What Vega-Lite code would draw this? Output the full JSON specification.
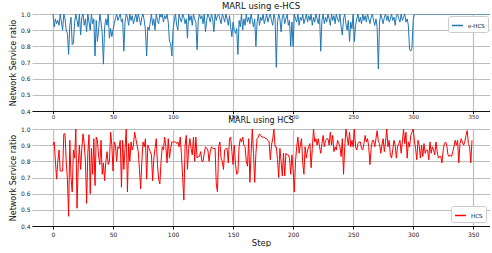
{
"$schema": "https://vega.github.io/schema/vega-lite/v6.json",
"padding": {"left": 9, "top": 1, "right": 0, "bottom": 0},
"background": "white",
"spacing": -3,
"datasets": {
"ehcs": [
{"step":0,"ratio":1.0},{"step":1,"ratio":0.92},{"step":2,"ratio":0.97},{"step":3,"ratio":0.94},{"step":4,"ratio":0.96},{"step":5,"ratio":0.93},{"step":6,"ratio":1.0},{"step":7,"ratio":0.95},{"step":8,"ratio":0.9},{"step":9,"ratio":1.0},
{"step":10,"ratio":0.97},{"step":11,"ratio":0.9},{"step":12,"ratio":0.88},{"step":13,"ratio":0.75},{"step":14,"ratio":0.93},{"step":15,"ratio":0.98},{"step":16,"ratio":0.81},{"step":17,"ratio":0.82},{"step":18,"ratio":0.95},{"step":19,"ratio":1.0},
{"step":20,"ratio":0.96},{"step":21,"ratio":0.92},{"step":22,"ratio":1.0},{"step":23,"ratio":0.87},{"step":24,"ratio":0.98},{"step":25,"ratio":1.0},{"step":26,"ratio":0.93},{"step":27,"ratio":0.97},{"step":28,"ratio":0.89},{"step":29,"ratio":1.0},
{"step":30,"ratio":0.95},{"step":31,"ratio":0.9},{"step":32,"ratio":1.0},{"step":33,"ratio":0.94},{"step":34,"ratio":0.97},{"step":35,"ratio":0.74},{"step":36,"ratio":0.96},{"step":37,"ratio":0.83},{"step":38,"ratio":0.9},{"step":39,"ratio":1.0},
{"step":40,"ratio":0.95},{"step":41,"ratio":0.88},{"step":42,"ratio":0.69},{"step":43,"ratio":0.92},{"step":44,"ratio":0.97},{"step":45,"ratio":0.93},{"step":46,"ratio":1.0},{"step":47,"ratio":0.85},{"step":48,"ratio":0.91},{"step":49,"ratio":0.86},
{"step":50,"ratio":0.9},{"step":51,"ratio":0.94},{"step":52,"ratio":0.97},{"step":53,"ratio":1.0},{"step":54,"ratio":0.96},{"step":55,"ratio":0.98},{"step":56,"ratio":1.0},{"step":57,"ratio":0.95},{"step":58,"ratio":0.97},{"step":59,"ratio":0.77},
{"step":60,"ratio":0.95},{"step":61,"ratio":1.0},{"step":62,"ratio":0.98},{"step":63,"ratio":0.93},{"step":64,"ratio":1.0},{"step":65,"ratio":0.96},{"step":66,"ratio":0.99},{"step":67,"ratio":0.94},{"step":68,"ratio":0.97},{"step":69,"ratio":1.0},
{"step":70,"ratio":0.95},{"step":71,"ratio":1.0},{"step":72,"ratio":0.97},{"step":73,"ratio":0.93},{"step":74,"ratio":0.98},{"step":75,"ratio":1.0},{"step":76,"ratio":0.96},{"step":77,"ratio":0.9},{"step":78,"ratio":0.74},{"step":79,"ratio":0.92},
{"step":80,"ratio":0.9},{"step":81,"ratio":0.95},{"step":82,"ratio":1.0},{"step":83,"ratio":0.93},{"step":84,"ratio":0.97},{"step":85,"ratio":0.9},{"step":86,"ratio":1.0},{"step":87,"ratio":0.96},{"step":88,"ratio":0.94},{"step":89,"ratio":1.0},
{"step":90,"ratio":0.98},{"step":91,"ratio":1.0},{"step":92,"ratio":0.95},{"step":93,"ratio":0.99},{"step":94,"ratio":0.97},{"step":95,"ratio":1.0},{"step":96,"ratio":0.95},{"step":97,"ratio":0.83},{"step":98,"ratio":0.82},{"step":99,"ratio":0.74},
{"step":100,"ratio":0.9},{"step":101,"ratio":0.96},{"step":102,"ratio":1.0},{"step":103,"ratio":0.93},{"step":104,"ratio":0.9},{"step":105,"ratio":1.0},{"step":106,"ratio":0.97},{"step":107,"ratio":0.95},{"step":108,"ratio":1.0},{"step":109,"ratio":0.98},
{"step":110,"ratio":0.94},{"step":111,"ratio":0.97},{"step":112,"ratio":0.85},{"step":113,"ratio":1.0},{"step":114,"ratio":0.96},{"step":115,"ratio":0.99},{"step":116,"ratio":0.93},{"step":117,"ratio":1.0},{"step":118,"ratio":0.97},{"step":119,"ratio":0.95},
{"step":120,"ratio":0.78},{"step":121,"ratio":0.96},{"step":122,"ratio":1.0},{"step":123,"ratio":0.97},{"step":124,"ratio":0.99},{"step":125,"ratio":0.94},{"step":126,"ratio":1.0},{"step":127,"ratio":0.89},{"step":128,"ratio":0.96},{"step":129,"ratio":1.0},
{"step":130,"ratio":0.98},{"step":131,"ratio":0.95},{"step":132,"ratio":1.0},{"step":133,"ratio":0.97},{"step":134,"ratio":0.89},{"step":135,"ratio":1.0},{"step":136,"ratio":0.96},{"step":137,"ratio":0.99},{"step":138,"ratio":1.0},{"step":139,"ratio":0.97},
{"step":140,"ratio":0.94},{"step":141,"ratio":1.0},{"step":142,"ratio":0.98},{"step":143,"ratio":0.95},{"step":144,"ratio":1.0},{"step":145,"ratio":0.97},{"step":146,"ratio":0.93},{"step":147,"ratio":0.99},{"step":148,"ratio":0.92},{"step":149,"ratio":0.86},
{"step":150,"ratio":0.95},{"step":151,"ratio":0.9},{"step":152,"ratio":0.88},{"step":153,"ratio":0.91},{"step":154,"ratio":0.75},{"step":155,"ratio":0.96},{"step":156,"ratio":0.92},{"step":157,"ratio":1.0},{"step":158,"ratio":0.9},{"step":159,"ratio":0.97},
{"step":160,"ratio":0.93},{"step":161,"ratio":1.0},{"step":162,"ratio":0.95},{"step":163,"ratio":0.98},{"step":164,"ratio":0.94},{"step":165,"ratio":1.0},{"step":166,"ratio":0.96},{"step":167,"ratio":0.92},{"step":168,"ratio":0.97},{"step":169,"ratio":0.8},
{"step":170,"ratio":0.95},{"step":171,"ratio":1.0},{"step":172,"ratio":0.93},{"step":173,"ratio":0.98},{"step":174,"ratio":0.96},{"step":175,"ratio":1.0},{"step":176,"ratio":0.94},{"step":177,"ratio":0.97},{"step":178,"ratio":1.0},{"step":179,"ratio":0.95},
{"step":180,"ratio":0.98},{"step":181,"ratio":1.0},{"step":182,"ratio":0.96},{"step":183,"ratio":0.93},{"step":184,"ratio":1.0},{"step":185,"ratio":0.97},{"step":186,"ratio":0.67},{"step":187,"ratio":0.95},{"step":188,"ratio":1.0},{"step":189,"ratio":0.97},
{"step":190,"ratio":0.89},{"step":191,"ratio":0.98},{"step":192,"ratio":1.0},{"step":193,"ratio":0.94},{"step":194,"ratio":0.97},{"step":195,"ratio":1.0},{"step":196,"ratio":0.93},{"step":197,"ratio":0.96},{"step":198,"ratio":0.8},{"step":199,"ratio":0.95},
{"step":200,"ratio":0.8},{"step":201,"ratio":1.0},{"step":202,"ratio":0.97},{"step":203,"ratio":0.95},{"step":204,"ratio":1.0},{"step":205,"ratio":0.93},{"step":206,"ratio":0.98},{"step":207,"ratio":0.96},{"step":208,"ratio":1.0},{"step":209,"ratio":0.94},
{"step":210,"ratio":0.97},{"step":211,"ratio":1.0},{"step":212,"ratio":0.95},{"step":213,"ratio":0.99},{"step":214,"ratio":0.96},{"step":215,"ratio":1.0},{"step":216,"ratio":0.93},{"step":217,"ratio":0.98},{"step":218,"ratio":0.95},{"step":219,"ratio":1.0},
{"step":220,"ratio":0.97},{"step":221,"ratio":0.94},{"step":222,"ratio":1.0},{"step":223,"ratio":0.77},{"step":224,"ratio":0.96},{"step":225,"ratio":1.0},{"step":226,"ratio":0.94},{"step":227,"ratio":0.98},{"step":228,"ratio":0.95},{"step":229,"ratio":1.0},
{"step":230,"ratio":0.97},{"step":231,"ratio":0.93},{"step":232,"ratio":1.0},{"step":233,"ratio":0.96},{"step":234,"ratio":0.99},{"step":235,"ratio":0.94},{"step":236,"ratio":1.0},{"step":237,"ratio":0.97},{"step":238,"ratio":0.95},{"step":239,"ratio":1.0},
{"step":240,"ratio":0.92},{"step":241,"ratio":0.87},{"step":242,"ratio":0.97},{"step":243,"ratio":1.0},{"step":244,"ratio":0.94},{"step":245,"ratio":0.9},{"step":246,"ratio":0.96},{"step":247,"ratio":0.83},{"step":248,"ratio":0.95},{"step":249,"ratio":0.91},
{"step":250,"ratio":1.0},{"step":251,"ratio":0.83},{"step":252,"ratio":0.93},{"step":253,"ratio":0.97},{"step":254,"ratio":1.0},{"step":255,"ratio":0.95},{"step":256,"ratio":0.98},{"step":257,"ratio":0.94},{"step":258,"ratio":1.0},{"step":259,"ratio":0.96},
{"step":260,"ratio":0.99},{"step":261,"ratio":0.95},{"step":262,"ratio":1.0},{"step":263,"ratio":0.97},{"step":264,"ratio":0.94},{"step":265,"ratio":0.98},{"step":266,"ratio":1.0},{"step":267,"ratio":0.96},{"step":268,"ratio":0.93},{"step":269,"ratio":0.97},
{"step":270,"ratio":0.92},{"step":271,"ratio":0.66},{"step":272,"ratio":0.95},{"step":273,"ratio":1.0},{"step":274,"ratio":0.97},{"step":275,"ratio":0.94},{"step":276,"ratio":0.98},{"step":277,"ratio":1.0},{"step":278,"ratio":0.96},{"step":279,"ratio":0.99},
{"step":280,"ratio":0.95},{"step":281,"ratio":0.97},{"step":282,"ratio":1.0},{"step":283,"ratio":0.96},{"step":284,"ratio":0.98},{"step":285,"ratio":0.93},{"step":286,"ratio":0.99},{"step":287,"ratio":1.0},{"step":288,"ratio":0.97},{"step":289,"ratio":0.95},
{"step":290,"ratio":1.0},{"step":291,"ratio":0.96},{"step":292,"ratio":0.98},{"step":293,"ratio":1.0},{"step":294,"ratio":0.95},{"step":295,"ratio":0.97},{"step":296,"ratio":0.93},{"step":297,"ratio":0.78},{"step":298,"ratio":0.77},{"step":299,"ratio":0.79},
{"step":300,"ratio":0.96},{"step":301,"ratio":1.0},{"step":302,"ratio":1.0},{"step":366,"ratio":1.0}
],
"hcs": [
{"step":0,"ratio":0.9},{"step":1,"ratio":0.92},{"step":2,"ratio":0.8},{"step":3,"ratio":0.69},{"step":4,"ratio":0.8},{"step":5,"ratio":0.87},{"step":6,"ratio":0.74},{"step":7,"ratio":0.74},{"step":8,"ratio":0.74},{"step":9,"ratio":0.97},
{"step":10,"ratio":0.97},{"step":11,"ratio":0.8},{"step":12,"ratio":0.69},{"step":13,"ratio":0.46},{"step":14,"ratio":0.93},{"step":15,"ratio":0.7},{"step":16,"ratio":0.61},{"step":17,"ratio":0.87},{"step":18,"ratio":0.82},{"step":19,"ratio":1.0},
{"step":20,"ratio":0.51},{"step":21,"ratio":0.78},{"step":22,"ratio":0.9},{"step":23,"ratio":0.75},{"step":24,"ratio":0.88},{"step":25,"ratio":0.97},{"step":26,"ratio":0.91},{"step":27,"ratio":0.8},{"step":28,"ratio":0.54},{"step":29,"ratio":0.85},
{"step":30,"ratio":0.965},{"step":31,"ratio":0.6},{"step":32,"ratio":0.88},{"step":33,"ratio":0.72},{"step":34,"ratio":0.94},{"step":35,"ratio":0.65},{"step":36,"ratio":0.95},{"step":37,"ratio":0.93},{"step":38,"ratio":0.83},{"step":39,"ratio":0.78},
{"step":40,"ratio":0.93},{"step":41,"ratio":0.72},{"step":42,"ratio":0.79},{"step":43,"ratio":0.68},{"step":44,"ratio":0.8},{"step":45,"ratio":0.86},{"step":46,"ratio":0.78},{"step":47,"ratio":0.8},{"step":48,"ratio":0.98},{"step":49,"ratio":0.9},
{"step":50,"ratio":0.74},{"step":51,"ratio":0.92},{"step":52,"ratio":0.9},{"step":53,"ratio":0.8},{"step":54,"ratio":0.89},{"step":55,"ratio":0.88},{"step":56,"ratio":0.93},{"step":57,"ratio":0.64},{"step":58,"ratio":0.93},{"step":59,"ratio":0.75},
{"step":60,"ratio":0.88},{"step":61,"ratio":1.0},{"step":62,"ratio":0.61},{"step":63,"ratio":0.91},{"step":64,"ratio":0.8},{"step":65,"ratio":0.92},{"step":66,"ratio":0.87},{"step":67,"ratio":0.9},{"step":68,"ratio":0.98},{"step":69,"ratio":0.94},
{"step":70,"ratio":0.9},{"step":71,"ratio":0.86},{"step":72,"ratio":0.75},{"step":73,"ratio":0.63},{"step":74,"ratio":0.8},{"step":75,"ratio":0.92},{"step":76,"ratio":0.89},{"step":77,"ratio":0.94},{"step":78,"ratio":0.69},{"step":79,"ratio":0.9},
{"step":80,"ratio":0.88},{"step":81,"ratio":0.86},{"step":82,"ratio":0.84},{"step":83,"ratio":0.68},{"step":84,"ratio":0.82},{"step":85,"ratio":0.88},{"step":86,"ratio":0.94},{"step":87,"ratio":0.78},{"step":88,"ratio":0.69},{"step":89,"ratio":0.66},
{"step":90,"ratio":0.8},{"step":91,"ratio":0.89},{"step":92,"ratio":0.87},{"step":93,"ratio":0.95},{"step":94,"ratio":0.89},{"step":95,"ratio":0.79},{"step":96,"ratio":0.94},{"step":97,"ratio":0.82},{"step":98,"ratio":0.88},{"step":99,"ratio":0.92},
{"step":100,"ratio":0.92},{"step":101,"ratio":0.92},{"step":102,"ratio":0.92},{"step":103,"ratio":0.91},{"step":104,"ratio":0.92},{"step":105,"ratio":0.89},{"step":106,"ratio":0.95},{"step":107,"ratio":0.84},{"step":108,"ratio":0.7},{"step":109,"ratio":0.56},
{"step":110,"ratio":0.9},{"step":111,"ratio":0.96},{"step":112,"ratio":0.75},{"step":113,"ratio":0.88},{"step":114,"ratio":0.94},{"step":115,"ratio":0.88},{"step":116,"ratio":0.84},{"step":117,"ratio":0.95},{"step":118,"ratio":0.8},{"step":119,"ratio":0.95},
{"step":120,"ratio":0.82},{"step":121,"ratio":0.83},{"step":122,"ratio":0.83},{"step":123,"ratio":0.86},{"step":124,"ratio":0.8},{"step":125,"ratio":0.8},{"step":126,"ratio":0.85},{"step":127,"ratio":0.89},{"step":128,"ratio":0.88},{"step":129,"ratio":0.87},
{"step":130,"ratio":0.8},{"step":131,"ratio":0.86},{"step":132,"ratio":0.89},{"step":133,"ratio":0.88},{"step":134,"ratio":0.88},{"step":135,"ratio":0.88},{"step":136,"ratio":0.66},{"step":137,"ratio":0.61},{"step":138,"ratio":0.89},{"step":139,"ratio":0.92},
{"step":140,"ratio":0.82},{"step":141,"ratio":0.8},{"step":142,"ratio":0.75},{"step":143,"ratio":0.87},{"step":144,"ratio":0.88},{"step":145,"ratio":0.88},{"step":146,"ratio":0.79},{"step":147,"ratio":0.94},{"step":148,"ratio":0.95},{"step":149,"ratio":0.86},
{"step":150,"ratio":0.78},{"step":151,"ratio":0.9},{"step":152,"ratio":0.78},{"step":153,"ratio":0.72},{"step":154,"ratio":0.73},{"step":155,"ratio":0.89},{"step":156,"ratio":0.94},{"step":157,"ratio":0.92},{"step":158,"ratio":0.95},{"step":159,"ratio":0.9},
{"step":160,"ratio":0.89},{"step":161,"ratio":0.8},{"step":162,"ratio":0.77},{"step":163,"ratio":0.94},{"step":164,"ratio":0.67},{"step":165,"ratio":0.85},{"step":166,"ratio":1.0},{"step":167,"ratio":0.85},{"step":168,"ratio":0.67},{"step":169,"ratio":0.85},
{"step":170,"ratio":0.94},{"step":171,"ratio":0.95},{"step":172,"ratio":0.97},{"step":173,"ratio":0.96},{"step":174,"ratio":0.95},{"step":175,"ratio":0.95},{"step":176,"ratio":0.95},{"step":177,"ratio":0.94},{"step":178,"ratio":0.94},{"step":179,"ratio":0.93},
{"step":180,"ratio":0.92},{"step":181,"ratio":0.81},{"step":182,"ratio":0.9},{"step":183,"ratio":0.94},{"step":184,"ratio":1.0},{"step":185,"ratio":0.89},{"step":186,"ratio":0.89},{"step":187,"ratio":0.81},{"step":188,"ratio":0.7},{"step":189,"ratio":0.88},
{"step":190,"ratio":0.8},{"step":191,"ratio":0.71},{"step":192,"ratio":0.85},{"step":193,"ratio":0.71},{"step":194,"ratio":0.85},{"step":195,"ratio":0.84},{"step":196,"ratio":0.84},{"step":197,"ratio":0.82},{"step":198,"ratio":0.72},{"step":199,"ratio":0.84},
{"step":200,"ratio":0.75},{"step":201,"ratio":0.61},{"step":202,"ratio":0.8},{"step":203,"ratio":0.89},{"step":204,"ratio":0.95},{"step":205,"ratio":0.85},{"step":206,"ratio":0.9},{"step":207,"ratio":0.94},{"step":208,"ratio":0.79},{"step":209,"ratio":0.72},
{"step":210,"ratio":0.89},{"step":211,"ratio":0.82},{"step":212,"ratio":0.87},{"step":213,"ratio":0.89},{"step":214,"ratio":0.91},{"step":215,"ratio":0.76},{"step":216,"ratio":0.88},{"step":217,"ratio":1.0},{"step":218,"ratio":0.92},{"step":219,"ratio":0.94},
{"step":220,"ratio":0.9},{"step":221,"ratio":0.94},{"step":222,"ratio":0.89},{"step":223,"ratio":0.85},{"step":224,"ratio":0.91},{"step":225,"ratio":0.96},{"step":226,"ratio":0.89},{"step":227,"ratio":0.93},{"step":228,"ratio":0.94},{"step":229,"ratio":0.94},
{"step":230,"ratio":0.9},{"step":231,"ratio":0.98},{"step":232,"ratio":0.9},{"step":233,"ratio":0.96},{"step":234,"ratio":0.86},{"step":235,"ratio":0.89},{"step":236,"ratio":0.87},{"step":237,"ratio":0.93},{"step":238,"ratio":0.91},{"step":239,"ratio":0.89},
{"step":240,"ratio":0.83},{"step":241,"ratio":0.94},{"step":242,"ratio":0.72},{"step":243,"ratio":0.89},{"step":244,"ratio":1.0},{"step":245,"ratio":0.95},{"step":246,"ratio":0.9},{"step":247,"ratio":0.98},{"step":248,"ratio":0.89},{"step":249,"ratio":0.93},
{"step":250,"ratio":0.89},{"step":251,"ratio":1.0},{"step":252,"ratio":0.89},{"step":253,"ratio":0.87},{"step":254,"ratio":0.91},{"step":255,"ratio":0.92},{"step":256,"ratio":0.92},{"step":257,"ratio":0.88},{"step":258,"ratio":0.87},{"step":259,"ratio":0.91},
{"step":260,"ratio":0.96},{"step":261,"ratio":0.92},{"step":262,"ratio":0.94},{"step":263,"ratio":0.89},{"step":264,"ratio":0.78},{"step":265,"ratio":0.88},{"step":266,"ratio":0.93},{"step":267,"ratio":0.93},{"step":268,"ratio":0.89},{"step":269,"ratio":0.94},
{"step":270,"ratio":0.99},{"step":271,"ratio":0.92},{"step":272,"ratio":0.91},{"step":273,"ratio":0.85},{"step":274,"ratio":0.9},{"step":275,"ratio":0.94},{"step":276,"ratio":0.86},{"step":277,"ratio":0.92},{"step":278,"ratio":1.0},{"step":279,"ratio":0.89},
{"step":280,"ratio":0.93},{"step":281,"ratio":0.84},{"step":282,"ratio":0.82},{"step":283,"ratio":0.87},{"step":284,"ratio":0.93},{"step":285,"ratio":0.9},{"step":286,"ratio":0.82},{"step":287,"ratio":0.89},{"step":288,"ratio":0.91},{"step":289,"ratio":0.93},
{"step":290,"ratio":0.85},{"step":291,"ratio":0.92},{"step":292,"ratio":1.0},{"step":293,"ratio":0.91},{"step":294,"ratio":0.98},{"step":295,"ratio":0.82},{"step":296,"ratio":0.92},{"step":297,"ratio":0.89},{"step":298,"ratio":0.96},{"step":299,"ratio":0.98},
{"step":300,"ratio":1.0},{"step":301,"ratio":0.93},{"step":302,"ratio":0.88},{"step":303,"ratio":0.81},{"step":304,"ratio":0.93},{"step":305,"ratio":0.9},{"step":306,"ratio":0.82},{"step":307,"ratio":0.9},{"step":308,"ratio":0.83},{"step":309,"ratio":0.91},
{"step":310,"ratio":0.85},{"step":311,"ratio":0.87},{"step":312,"ratio":0.87},{"step":313,"ratio":0.81},{"step":314,"ratio":0.92},{"step":315,"ratio":0.85},{"step":316,"ratio":0.89},{"step":317,"ratio":0.87},{"step":318,"ratio":0.84},{"step":319,"ratio":0.92},
{"step":320,"ratio":0.86},{"step":321,"ratio":0.82},{"step":322,"ratio":0.83},{"step":323,"ratio":0.83},{"step":324,"ratio":0.79},{"step":325,"ratio":0.87},{"step":326,"ratio":0.91},{"step":327,"ratio":0.92},{"step":328,"ratio":0.9},{"step":329,"ratio":0.84},
{"step":330,"ratio":0.83},{"step":331,"ratio":0.84},{"step":332,"ratio":0.83},{"step":333,"ratio":0.86},{"step":334,"ratio":0.89},{"step":335,"ratio":0.93},{"step":336,"ratio":0.9},{"step":337,"ratio":0.93},{"step":338,"ratio":0.79},{"step":339,"ratio":0.91},
{"step":340,"ratio":0.94},{"step":341,"ratio":0.92},{"step":342,"ratio":0.9},{"step":343,"ratio":0.92},{"step":344,"ratio":0.96},{"step":345,"ratio":0.99},{"step":346,"ratio":0.91},{"step":347,"ratio":0.89},{"step":348,"ratio":0.79},{"step":349,"ratio":0.93}
]
},
"vconcat": [
{
"title": {"text": "MARL using e-HCS", "offset": 1},
"width": 458, "height": 97,
"data": {"name": "ehcs"},
"mark": {"type": "line", "strokeWidth": 1, "clip": true},
"encoding": {
"x": {"field": "step", "type": "quantitative", "scale": {"domain": [-17.5, 364], "nice": false, "zero": false}, "axis": {"values": [0,50,100,150,200,250,300,350], "title": null, "labelPadding": 1, "tickSize": 2.5, "labelFontSize": 5.5}},
"y": {"field": "ratio", "type": "quantitative", "scale": {"domain": [0.4, 1.0], "nice": false, "zero": false}, "axis": {"values": [0.4,0.5,0.6,0.7,0.8,0.9,1.0], "format": ".1f", "title": "Network Service ratio"}},
"color": {"datum": "e-HCS", "type": "nominal", "scale": {"domain": ["e-HCS"], "range": ["#1f77b4"]}, "legend": {"orient": "top-right", "title": null, "offset": 2}}
}
},
{
"title": {"text": "MARL using HCS", "frame": "group", "offset": 1, "fontSize": 8},
"width": 458, "height": 97,
"data": {"name": "hcs"},
"mark": {"type": "line", "strokeWidth": 1, "clip": true},
"encoding": {
"x": {"field": "step", "type": "quantitative", "scale": {"domain": [-17.5, 364], "nice": false, "zero": false}, "axis": {"values": [0,50,100,150,200,250,300,350], "title": "Step"}},
"y": {"field": "ratio", "type": "quantitative", "scale": {"domain": [0.4, 1.0], "nice": false, "zero": false}, "axis": {"values": [0.4,0.5,0.6,0.7,0.8,0.9,1.0], "format": ".1f", "title": "Network Service ratio"}},
"color": {"datum": "HCS", "type": "nominal", "scale": {"domain": ["HCS"], "range": ["#ff0000"]}, "legend": {"orient": "bottom-right", "title": null, "offset": 4}}
}
}
],
"resolve": {"scale": {"color": "independent"}, "legend": {"color": "independent"}},
"config": {
"font": "DejaVu Sans",
"view": {"stroke": null},
"axis": {"gridColor": "#bdbdbd", "gridWidth": 1.2, "labelFontSize": 6, "labelColor": "#222", "titleFontWeight": "normal", "titleColor": "#111", "domainColor": "#111", "tickColor": "#111", "labelPadding": 2},
"axisY": {"domain": false, "ticks": false, "titleFontSize": 8, "titlePadding": 3},
"axisX": {"titleFontSize": 8.5, "tickSize": 3, "titlePadding": 1, "labelFlush": false},
"title": {"fontSize": 8.5, "fontWeight": "normal", "anchor": "middle", "color": "#111"},
"legend": {"symbolType": "stroke", "symbolStrokeWidth": 1.5, "symbolSize": 120, "labelFontSize": 5.5, "padding": 3, "strokeColor": "#cccccc", "fillColor": "white", "cornerRadius": 2, "rowPadding": 0, "symbolOffset": 0}
}
}
